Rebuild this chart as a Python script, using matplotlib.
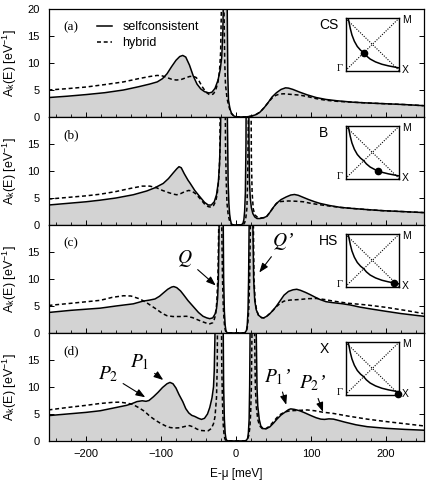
import matplotlib
matplotlib.use('Agg')
import matplotlib.pyplot as plt
from matplotlib.ticker import MultipleLocator

plt.rcParams['font.family'] = ['Liberation Sans', 'DejaVu Sans']
plt.rcParams['mathtext.fontset'] = 'stix'

# ---------------- data ----------------
# panel (a) CS
a_sc_E = [-250,-225,-200,-175,-150,-130,-115,-105,-98,-92,-86,-80,-75,-71,-67,-62,-57,-52,-47,-42,-36,-32,-28,-24,-21,-19,-17.5,-16.5,-15,-13,-12,-11,-10,-8,-6,-3,0,5,14,20,26,32,38,43,48,54,60,66,70,76,85,95,107,120,135,155,175,200,225,250]
a_sc_A = [3.6,3.85,4.15,4.5,5.0,5.6,6.1,6.5,7.1,8.0,9.3,10.5,11.2,11.4,11.1,9.6,7.6,6.1,5.2,4.7,4.45,4.6,5.3,6.8,8.8,11.1,16,25,40,40,25,8,3.1,1.5,0.7,0.2,0.05,0,0.02,0.15,0.4,0.9,1.8,2.7,3.7,4.5,5.1,5.4,5.35,5.1,4.6,4.1,3.6,3.25,3.0,2.75,2.6,2.45,2.3,2.1]
a_hy_E = [-250,-225,-200,-175,-150,-130,-115,-105,-98,-92,-86,-80,-74,-68,-62,-57,-53,-49,-45,-40,-36,-33,-30,-27,-24,-22,-20.5,-19.5,-18.5,-17,-16,-15,-14,-12,-10,-8,-6,-3,0,5,14,20,26,32,38,43,48,53,58,64,72,85,95,107,120,135,155,175,200,225,250]
a_hy_A = [5.0,5.25,5.55,6.0,6.5,7.1,7.5,7.7,7.6,7.3,7.0,6.85,6.9,7.2,7.5,7.55,7.3,6.6,5.6,4.6,4.2,4.1,4.3,5.0,6.5,8.5,12,20,40,40,20,10,6,3.5,2.2,1.3,0.6,0.2,0.05,0,0.02,0.15,0.4,0.9,1.8,2.7,3.5,4.0,4.25,4.3,4.2,4.05,3.8,3.4,3.1,2.9,2.75,2.6,2.45,2.3,2.1]

# panel (b) B
b_sc_E = [-250,-225,-200,-181,-160,-137,-119,-108,-97,-90,-84,-79,-76,-73,-69,-64,-61,-55,-48,-42,-37,-33,-29,-26,-23.5,-22,-20.5,-19,-13,-11.5,-10.5,-9.5,-8.5,-7.5,-6.5,-5.5,-4,0,6,8,9.5,10.5,11.5,12.5,13.3,14,16.5,17.3,18,19,20.5,22.5,25,28,32,37,41,45,50,54,60,67,73,78,83,90,97,105,112,125,140,152,175,196,220,250]
b_sc_A = [3.7,4.0,4.3,4.6,5.0,5.6,6.3,6.9,7.7,8.6,9.6,10.4,10.8,10.6,9.5,8.3,7.7,6.4,5.2,4.2,3.7,3.7,4.3,5.6,8,11.2,18,40,40,20,8,4,2,1,0.4,0.1,0.02,0,0.02,0.1,0.4,1,2.5,6,15,40,40,15,8,5,3.2,2.1,1.5,1.2,1.2,1.35,1.6,2.3,3.3,4.0,4.7,5.2,5.55,5.65,5.5,5.1,4.7,4.3,4.0,3.6,3.25,3.1,2.85,2.65,2.5,2.3]
b_hy_E = [-250,-225,-200,-181,-160,-140,-125,-115,-106,-98,-90,-83,-79,-74,-68,-63,-59,-54,-48,-42,-37,-33,-30,-27,-25,-23,-21.5,-20.5,-15,-14,-13,-12,-10.5,-9,-7.5,-6,-4,0,8,10,11.5,13,14.5,15.5,16.5,17.5,19.5,20.5,21.5,23,25,28,32,37,41,45,50,54,60,70,80,90,100,112,125,140,152,175,196,220,250]
b_hy_A = [4.8,5.1,5.4,5.7,6.2,6.8,7.2,7.2,6.9,6.4,6.0,5.7,5.6,5.8,6.2,6.4,6.3,5.8,4.9,3.9,3.4,3.3,3.6,4.4,5.8,8.5,13,40,40,15,8,4,2,1,0.4,0.1,0.02,0,0.02,0.1,0.4,1.2,3,8,20,40,40,12,6,3,1.9,1.5,1.3,1.35,1.6,2.3,3.3,4.0,4.35,4.45,4.4,4.3,4.0,3.75,3.5,3.25,3.1,2.85,2.65,2.5,2.3]

# panel (c) HS
c_sc_E = [-250,-220,-181,-160,-137,-124,-115,-108,-102,-97,-91,-86,-83,-79,-74,-70,-64,-57,-50,-44,-39,-35,-31,-28,-26,-24.5,-23.5,-22.5,-21.5,-18,-17,-16.5,-15.5,-14.5,-13.5,-12.5,-11,0,11,12.5,14,15,16,16.8,17.5,18.3,21.5,22.5,23.5,25,27,30,34,37,41,46,50,54,59,64,70,76,81,86,93,99,106,112,120,130,140,152,165,180,196,220,250]
c_sc_A = [3.8,4.2,4.6,5.0,5.4,5.9,6.1,6.3,6.8,7.4,8.1,8.5,8.6,8.4,7.8,7.1,6.0,4.9,3.8,3.1,2.8,2.65,2.8,3.5,4.5,6.5,10,20,40,40,20,10,4,1.5,0.5,0.15,0.02,0,0.02,0.15,0.5,1.5,4,10,20,40,40,20,10,6,4.3,3.3,2.85,2.8,3.1,3.7,4.3,5.0,6.0,7.0,7.7,8.0,8.1,7.9,7.5,7.1,6.6,6.2,5.8,5.6,5.45,5.2,4.8,4.45,4.1,3.6,3.1]
c_hy_E = [-250,-220,-181,-165,-150,-140,-128,-118,-106,-98,-92,-84,-75,-66,-58,-52,-45,-39,-35,-31,-29,-27,-25.5,-24,-23,-22.5,-19.5,-19,-18,-17,-16,-15,-14,-13,-11,0,11,13,14,15,16.2,17.2,18.2,19.2,20,22.5,23.2,24,25.5,27.5,30,34,37,41,46,50,54,59,64,72,85,95,107,118,130,150,174,200,225,250]
c_hy_A = [5.1,5.5,6.05,6.6,6.9,6.85,6.3,5.5,4.4,3.6,3.2,3.05,3.05,3.1,2.85,2.5,2.1,1.8,1.7,1.9,2.5,3.5,6,11,20,40,40,20,10,5,2.5,1,0.4,0.1,0.02,0,0.02,0.1,0.4,1,2.5,5,10,20,40,40,20,10,6,4.2,3.3,2.85,2.8,3.1,3.7,4.3,4.9,5.5,5.9,6.1,6.2,6.35,6.4,6.2,5.9,5.5,5.2,4.75,4.2,3.6]

# panel (d) X
d_sc_E = [-250,-225,-200,-181,-160,-146,-140,-132,-125,-120,-116,-110,-104,-98,-92,-88,-84,-80,-76,-71,-67,-63,-59,-55,-50,-46,-42,-38,-35,-32,-30,-29,-28,-27,-18,-17,-16.5,-15.5,-14.5,-13.5,-12.5,-11,0,12,14,15.5,16.5,17.5,18.2,18.8,19.5,26,27,28,29,31,33,36,40,45,50,55,60,65,70,73,78,85,92,100,107,113,118,124,130,137,145,160,175,200,225,250]
d_sc_A = [4.7,5.0,5.3,5.6,6.2,6.6,6.85,7.3,7.45,7.35,7.5,8.2,9.0,9.9,10.6,10.85,10.6,9.8,8.6,7.3,6.0,5.2,4.75,4.55,4.2,4.0,4.2,5.0,6.2,8,10,13,20,40,40,20,10,4,1.5,0.5,0.15,0.02,0,0.02,0.15,0.5,1.5,4,10,20,40,40,20,10,6.5,4,2.8,2.3,2.25,2.6,3.3,4.1,4.8,5.3,5.8,5.95,5.85,5.6,5.2,4.7,4.3,4.05,4.0,4.1,4.05,3.8,3.5,3.0,2.65,2.35,2.15,2.0]
d_hy_E = [-250,-225,-200,-181,-165,-155,-145,-138,-130,-122,-115,-108,-101,-94,-88,-82,-75,-68,-62,-57,-52,-47,-42,-37,-33,-30,-28,-26,-25,-24,-20,-19,-18,-17,-16,-15,-14,-12,0,12,14,15.5,17,18.5,19.5,20.5,21.3,22,24,24.8,25.8,27,29,31.5,35,40,45,50,55,60,66,72,80,88,95,105,115,130,150,175,200,225,250]
d_hy_A = [5.75,6.2,6.6,6.95,7.15,7.2,7.0,6.8,6.2,5.5,4.6,3.9,3.3,2.8,2.5,2.4,2.45,2.7,2.85,2.6,2.2,1.95,1.9,1.9,2.3,3.2,4.5,8,14,40,40,14,7,3,1.3,0.5,0.15,0.02,0,0.02,0.15,0.4,1,2.5,5,10,20,40,40,20,10,6.5,4.0,2.8,2.3,2.3,2.8,3.6,4.4,5.0,5.4,5.6,5.65,5.7,5.75,5.6,5.35,5.1,4.6,4.05,3.6,3.2,2.8]

panel_letters = ['(a)', '(b)', '(c)', '(d)']
panel_names = ['CS', 'B', 'HS', 'X']
legend_labels = ['selfconsistent', 'hybrid']
x_ticks = [-200, -100, 0, 100, 200]
y_ticks = [0, 5, 10, 15, 20]

# Brillouin-zone inset: Fermi-surface arc and k-point marker per panel
fs_x = [0.05,0.07,0.09,0.12,0.165,0.22,0.28,0.34,0.39,0.46,0.56,0.68,0.80,0.90,1.0]
fs_y = [1.0,0.90,0.80,0.68,0.56,0.46,0.39,0.34,0.28,0.22,0.165,0.12,0.09,0.07,0.05]
k_dot_x = [0.34, 0.60, 0.90, 0.985]
k_dot_y = [0.34, 0.15, 0.07, 0.02]

# annotations: (panel, label, text position, arrow tip)
annots = [
    (2, r'$Q$',                (-68, 13.8), (-27, 8.8)),
    (2, r'$Q$' + '\u2019',     (63, 17.0),  (31, 11.2)),
    (3, r'$P_{\mathit{1}}$',   (-128, 14.6), (-97, 11.3)),
    (3, r'$P_{\mathit{2}}$',   (-171, 12.4), (-121, 8.1)),
    (3, r'$P_{\mathit{1}}$' + '\u2019', (56, 11.9),  (67, 6.7)),
    (3, r'$P_{\mathit{2}}$' + '\u2019', (102, 10.7), (116, 5.4)),
]

sc_E = [a_sc_E, b_sc_E, c_sc_E, d_sc_E]
sc_A = [a_sc_A, b_sc_A, c_sc_A, d_sc_A]
hy_E = [a_hy_E, b_hy_E, c_hy_E, d_hy_E]
hy_A = [a_hy_A, b_hy_A, c_hy_A, d_hy_A]

# ---------------- figure ----------------
fig = plt.figure(figsize=(4.47, 4.82), dpi=100)
left = 48.5 / 447
width = 375 / 447
height = 108 / 482
bottoms = [1 - 117 / 482, 1 - 225 / 482, 1 - 333 / 482, 1 - 441 / 482]
dash = (0, (2.6, 1.8))

axes = []
for i in range(4):
    ax = fig.add_axes([left, bottoms[i], width, height])
    axes.append(ax)
    ax.fill_between(sc_E[i], 0, sc_A[i], color='#d3d3d3', lw=0, zorder=1)
    ax.plot(sc_E[i], sc_A[i], color='k', lw=1.1, zorder=3, label=legend_labels[0])
    ax.plot(hy_E[i], hy_A[i], color='k', lw=1.1, ls=dash, zorder=4, label=legend_labels[1])
    ax.set_xlim(-250, 250)
    ax.set_ylim(0, 20)
    ax.set_xticks(x_ticks)
    ax.xaxis.set_minor_locator(MultipleLocator(20))
    ax.set_yticks(y_ticks)
    if i > 0:
        ax.set_yticklabels(['0', '5', '10', '15', ''])
    if i < 3:
        ax.tick_params(axis='x', labelbottom=False)
    ax.tick_params(axis='both', which='both', direction='in', labelsize=8)
    ax.tick_params(axis='y', which='major', left=True, right=True, length=3.5, width=0.7, pad=6.5)
    ax.tick_params(axis='x', which='major', length=3.5, width=0.7, pad=6)
    ax.tick_params(axis='x', which='minor', length=2.2, width=0.6)
    for s in ax.spines.values():
        s.set_linewidth(0.9)
        s.set_zorder(6)
    ax.set_ylabel(r'A$_\mathregular{k}$(E) [eV$^\mathregular{-1}$]', fontsize=9)
    ax.yaxis.set_label_coords(-0.078, 0.5)

    ax.text(0.04, 0.83, panel_letters[i], transform=ax.transAxes, fontsize=9.5,
            family='Liberation Serif', ha='left', va='center', zorder=7)
    ax.text(0.722, 0.855, panel_names[i], transform=ax.transAxes, fontsize=10,
            ha='left', va='center', zorder=7)

    ins = ax.inset_axes([0.792, 0.43, 0.143, 0.485])
    ins.set_xlim(0, 1)
    ins.set_ylim(0, 1)
    ins.set_xticks([])
    ins.set_yticks([])
    ins.set_facecolor('white')
    for s in ins.spines.values():
        s.set_linewidth(1.0)
    ins.plot([0, 1], [0, 1], color='k', lw=0.8, ls=(0, (1, 1.3)))
    ins.plot([0, 1], [1, 0], color='k', lw=0.8, ls=(0, (1, 1.3)))
    ins.plot(fs_x, fs_y, color='k', lw=1.1)
    ins.plot([k_dot_x[i]], [k_dot_y[i]], 'o', color='k', ms=4.5, clip_on=False, zorder=5)
    ins.text(1.05, 0.97, 'M', fontsize=7.5, ha='left', va='center', transform=ins.transAxes)
    ins.text(1.05, 0.02, 'X', fontsize=7.5, ha='left', va='center', transform=ins.transAxes)
    ins.text(-0.05, 0.04, '\u0393', fontsize=7.5, ha='right', va='center',
             family='Liberation Serif', transform=ins.transAxes)

axes[0].legend(loc='upper left', bbox_to_anchor=(0.13, 0.885), frameon=False, fontsize=9,
               handlelength=1.2, handletextpad=0.8, labelspacing=0.3, borderpad=0,
               borderaxespad=0)
axes[3].set_xlabel('E-\u03bc [meV]', fontsize=8.5, labelpad=6)

for (p, lab, xyt, xy) in annots:
    axes[p].annotate(lab, xy=xy, xytext=xyt, fontsize=14, ha='center', va='center', zorder=8,
                     family='Liberation Serif', style='italic',
                     arrowprops=dict(arrowstyle='-|>,head_length=0.4,head_width=0.15',
                                     color='k', lw=0.8, shrinkA=2, shrinkB=0))

fig.savefig('out.png', dpi=100)
